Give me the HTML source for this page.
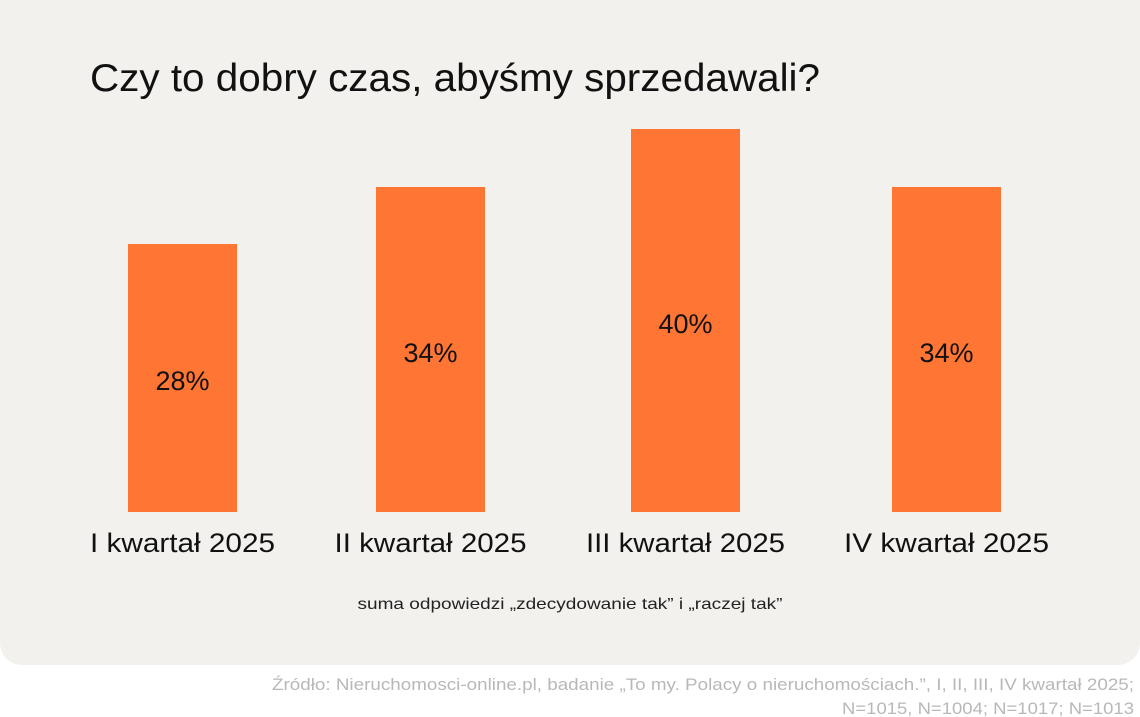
<!DOCTYPE html>
<html><head><meta charset="utf-8"><style>
html,body{margin:0;padding:0;background:#fff;width:1140px;height:717px;overflow:hidden}
</style></head><body>
<svg width="1140" height="717" xmlns="http://www.w3.org/2000/svg" font-family="Liberation Sans, sans-serif">
<rect x="0" y="-20" width="1140" height="685" rx="22" fill="#f2f1ed"/>
<text x="90" y="91" font-size="39" fill="#111" textLength="730" lengthAdjust="spacingAndGlyphs">Czy to dobry czas, abyśmy sprzedawali?</text>
<g fill="#ff7533">
<rect x="128" y="244" width="109" height="268"/>
<rect x="376" y="187" width="109" height="325"/>
<rect x="631" y="129" width="109" height="383"/>
<rect x="892" y="187" width="109" height="325"/>
</g>
<g font-size="27" fill="#111" text-anchor="middle">
<text x="182.5" y="390">28%</text>
<text x="430.5" y="362">34%</text>
<text x="685.5" y="333">40%</text>
<text x="946.5" y="362">34%</text>
</g>
<g font-size="27" fill="#111" text-anchor="middle">
<text x="182.5" y="552" textLength="185" lengthAdjust="spacingAndGlyphs">I kwartał 2025</text>
<text x="430.5" y="552" textLength="192" lengthAdjust="spacingAndGlyphs">II kwartał 2025</text>
<text x="685.5" y="552" textLength="199" lengthAdjust="spacingAndGlyphs">III kwartał 2025</text>
<text x="946.5" y="552" textLength="205" lengthAdjust="spacingAndGlyphs">IV kwartał 2025</text>
</g>
<text x="570" y="609" font-size="16" fill="#222" text-anchor="middle" textLength="425" lengthAdjust="spacingAndGlyphs">suma odpowiedzi „zdecydowanie tak” i „raczej tak”</text>
<g font-size="17" fill="#b8b8b8" text-anchor="end">
<text x="1134" y="690" textLength="862" lengthAdjust="spacingAndGlyphs">Źródło: Nieruchomosci-online.pl, badanie „To my. Polacy o nieruchomościach.”, I, II, III, IV kwartał 2025;</text>
<text x="1134" y="714" textLength="292" lengthAdjust="spacingAndGlyphs">N=1015, N=1004; N=1017; N=1013</text>
</g>
</svg>
</body></html>
